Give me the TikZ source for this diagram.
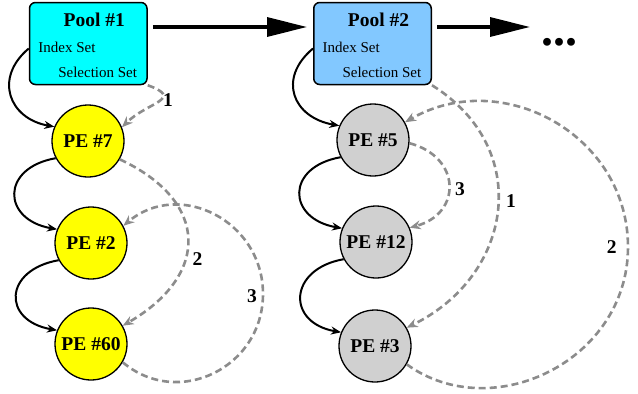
\documentclass[tikz,border=0pt]{standalone}
\usepackage{fontspec}
\setmainfont{Liberation Serif}
\usetikzlibrary{arrows.meta}

\definecolor{poolcyan}{RGB}{0,255,255}
\definecolor{poolblue}{RGB}{130,200,255}
\definecolor{peyellow}{RGB}{255,255,0}
\definecolor{pegray}{RGB}{208,208,208}
\definecolor{linkgray}{RGB}{140,140,140}

\begin{document}
\begin{tikzpicture}[x=1pt,y=1pt,
  poolbox/.style={draw=black, line width=1.5pt, rounded corners=6pt,
    minimum width=117.5pt, minimum height=82pt, inner sep=0pt},
  pecircle/.style={circle, draw=black, line width=1.3pt, minimum size=72pt,
    inner sep=0pt, font=\fontsize{19.5}{20}\selectfont\bfseries},
  titletext/.style={font=\fontsize{19.5}{20}\selectfont\bfseries, inner sep=0pt},
  settext/.style={font=\fontsize{15}{16}\selectfont, inner sep=0pt},
  numtext/.style={font=\fontsize{19.5}{20}\selectfont\bfseries, inner sep=0pt},
  flow/.style={line width=2pt, -{Stealth[length=10pt,width=8pt]}},
  pick/.style={linkgray, line width=2.6pt, dash pattern=on 7pt off 4pt,
    -{Stealth[length=11pt,width=9pt]}},
  chain/.style={line width=3.3pt, -{Triangle[length=40pt,width=19pt]}},
]
\useasboundingbox (0,0) rectangle (638,-394);

% pools
\node[poolbox, fill=poolcyan] (pool1) at (88.25,-43.5) {};
\node[poolbox, fill=poolblue] (pool2) at (372.5,-43.5) {};
\node[titletext, anchor=base] (title1) at ([shift={(6,16.8)}]pool1.center) {Pool \#1};
\node[settext, anchor=base west] (idx1) at ([shift={(-50,-9.2)}]pool1.center) {Index Set};
\node[settext, anchor=base east] (sel1) at ([shift={(49,-33.8)}]pool1.center) {Selection Set};
\node[titletext, anchor=base] (title2) at ([shift={(6,16.8)}]pool2.center) {Pool \#2};
\node[settext, anchor=base west] (idx2) at ([shift={(-50,-9.2)}]pool2.center) {Index Set};
\node[settext, anchor=base east] (sel2) at ([shift={(49,-33.8)}]pool2.center) {Selection Set};

% processing elements
\node[pecircle, fill=peyellow] (pe7)  at (88,-141) {PE \#7};
\node[pecircle, fill=peyellow] (pe2)  at (91,-243) {PE \#2};
\node[pecircle, fill=peyellow] (pe60) at (91,-344) {PE \#60};
\node[pecircle, fill=pegray] (pe5)  at (373,-140) {PE \#5};
\node[pecircle, fill=pegray] (pe12) at (376,-242) {PE \#12};
\node[pecircle, fill=pegray] (pe3)  at (375,-346) {PE \#3};

% chain of pools
\coordinate (more) at (530,-27);
\draw[chain] ([shift={(5,16.5)}]pool1.east) -- ([shift={(-6,16.5)}]pool2.west);
\draw[chain] ([shift={(5,16.5)}]pool2.east) -- (more);
\node[font=\fontsize{48}{48}\selectfont\bfseries, anchor=base west, inner sep=0pt]
  (dots) at (541.5,-45) {...};

% index order (solid)
\draw[flow] ([yshift=-5pt]pool1.west) .. controls +(220:46) and +(170:46) .. (pe7.157);
\draw[flow] (pe7.208) .. controls +(190:56) and +(170:56) .. (pe2.158);
\draw[flow] (pe2.208) .. controls +(190:56) and +(170:56) .. (pe60.158);
\draw[flow] ([yshift=-5pt]pool2.west) .. controls +(220:47) and +(170:47) .. (pe5.157);
\draw[flow] (pe5.208) .. controls +(190:56) and +(170:56) .. (pe12.158);
\draw[flow] (pe12.208) .. controls +(190:56) and +(170:56) .. (pe3.158);

% selection order (dashed)
\coordinate (loopA) at (263,-294);
\coordinate (loopB) at (628,-247);
\draw[pick] (pool1.south east) .. controls +(-20:40) and +(45:35) .. (pe7.22);
\draw[pick] (pe7.-30) .. controls +(-25:100) and +(30:100) .. (pe60.30);
\draw[pick] (pe60.-30) .. controls +(-40:73) and +(-90:73) .. (loopA)
  .. controls +(90:73) and +(40:73) .. (pe2.28);
\draw[pick] (pool2.south east) .. controls +(-32:120) and +(26:118) .. (pe3.30);
\draw[pick] (pe5.-5) .. controls +(-15:54) and +(15:54) .. (pe12.23);
\draw[pick] (pe3.-30) .. controls +(-36:105) and +(-90:114) .. (loopB)
  .. controls +(90:112) and +(30:112) .. (pe5.29);

\node[numtext] (n1a) at (168,-100.5) {1};
\node[numtext] (n2a) at (197.5,-259) {2};
\node[numtext] (n3a) at (252,-296.5) {3};
\node[numtext] (n3b) at (460,-189) {3};
\node[numtext] (n1b) at (511,-201) {1};
\node[numtext] (n2b) at (611.7,-247) {2};
\end{tikzpicture}
\end{document}
